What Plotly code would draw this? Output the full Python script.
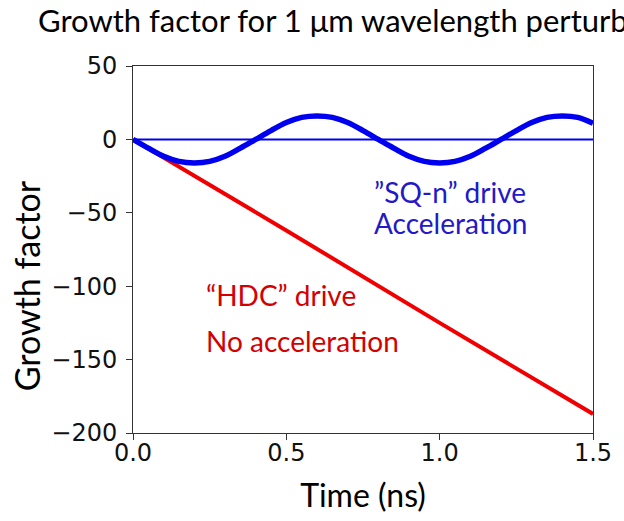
import plotly.graph_objects as go

# Data
time_sq = [0.0, 0.05, 0.10, 0.15, 0.20, 0.25, 0.30, 0.35, 0.40, 0.45, 0.50, 0.55, 0.60,
           0.65, 0.70, 0.75, 0.80, 0.85, 0.90, 0.95, 1.00, 1.05, 1.10, 1.15, 1.20, 1.25,
           1.30, 1.35, 1.40, 1.45, 1.50]
growth_sq = [0, -6, -11.5, -15, -16, -15, -11.5, -6, 0, 6, 11.5, 15, 16,
             15, 11.5, 6, 0, -6, -11.5, -15, -16, -15, -11.5, -6, 0, 6,
             11.5, 15, 16, 15, 11]
time_hdc = [0.0, 0.5, 1.0, 1.5]
growth_hdc = [0, -62, -125, -187]
time_zero = [0.0, 1.5]
growth_zero = [0, 0]

x_ticks = [0.0, 0.5, 1.0, 1.5]
y_ticks = [50, 0, -50, -100, -150, -200]

BLUE = "#0000f0"
RED = "#f00000"
TXT_FONT = "Lato"
TICK_FONT = "DejaVu Sans"

fig = go.Figure()
fig.add_trace(go.Scatter(x=time_zero, y=growth_zero, mode="lines",
                         line=dict(color=BLUE, width=2), showlegend=False))
fig.add_trace(go.Scatter(x=time_hdc, y=growth_hdc, mode="lines",
                         line=dict(color=RED, width=4), showlegend=False))
fig.add_trace(go.Scatter(x=time_sq, y=growth_sq, mode="lines",
                         line=dict(color=BLUE, width=5.5, shape="spline"), showlegend=False))

ann_blue = dict(family=TXT_FONT, size=28, color="#2418c8")
ann_red = dict(family=TXT_FONT, size=28, color="#d40000")
fig.add_annotation(x=1.035, y=-36, xref="x", yref="y", xanchor="center", yanchor="middle",
                   text="”SQ-n” drive", showarrow=False, font=ann_blue)
fig.add_annotation(x=1.035, y=-57, xref="x", yref="y", xanchor="center", yanchor="middle",
                   text="Acceleration", showarrow=False, font=ann_blue)
fig.add_annotation(x=0.23, y=-106, xref="x", yref="y", xanchor="left", yanchor="middle",
                   text="“HDC” drive", showarrow=False, font=ann_red)
fig.add_annotation(x=0.23, y=-137, xref="x", yref="y", xanchor="left", yanchor="middle",
                   text="No acceleration", showarrow=False, font=ann_red)
# y-axis title (offset below the plot centre, as in the reference)
fig.add_annotation(x=24 / 624, y=1 - 286 / 521, xref="paper", yref="paper",
                   xanchor="center", yanchor="middle", textangle=-90,
                   text="Growth factor", showarrow=False,
                   font=dict(family=TXT_FONT, size=34, color="black"))

fig.update_layout(
    width=624, height=521,
    margin=dict(l=133, r=21, t=66, b=88),
    paper_bgcolor="white", plot_bgcolor="white",
    title=dict(text="Growth factor for 1 μm wavelength perturbation",
               x=38 / 624, xanchor="left", xref="container", y=1 - 21 / 521, yanchor="middle",
               yref="container",
               font=dict(family=TXT_FONT, size=31, color="black")),
)
# paper-referenced annotation coordinates are relative to the plot area; convert
for a in fig.layout.annotations:
    if a.xref == "paper" and a.textangle == -90:
        a.x = (24 - 133) / (624 - 133 - 21)
        a.y = (433 - 286) / (433 - 66)

fig.update_xaxes(range=[0, 1.5], tickvals=x_ticks, ticktext=[f"{v:.1f}" for v in x_ticks],
                 showgrid=False, zeroline=False, showline=True, linecolor="#333", linewidth=1,
                 mirror=True, ticks="outside", ticklen=6, tickcolor="#333",
                 ticklabelstandoff=-8,
                 tickfont=dict(family=TICK_FONT, size=24, color="#111"),
                 title=dict(text="Time (ns)", font=dict(family=TXT_FONT, size=32, color="black"),
                            standoff=18))
fig.update_yaxes(range=[-200, 50], tickvals=y_ticks, ticktext=[str(v).replace("-", "−") for v in y_ticks],
                 showgrid=False, zeroline=False, showline=True, linecolor="#333", linewidth=1,
                 mirror=True, ticks="outside", ticklen=6, tickcolor="#333",
                 ticklabelstandoff=4,
                 tickfont=dict(family=TICK_FONT, size=24, color="#111"))

fig.write_html("out.html")
